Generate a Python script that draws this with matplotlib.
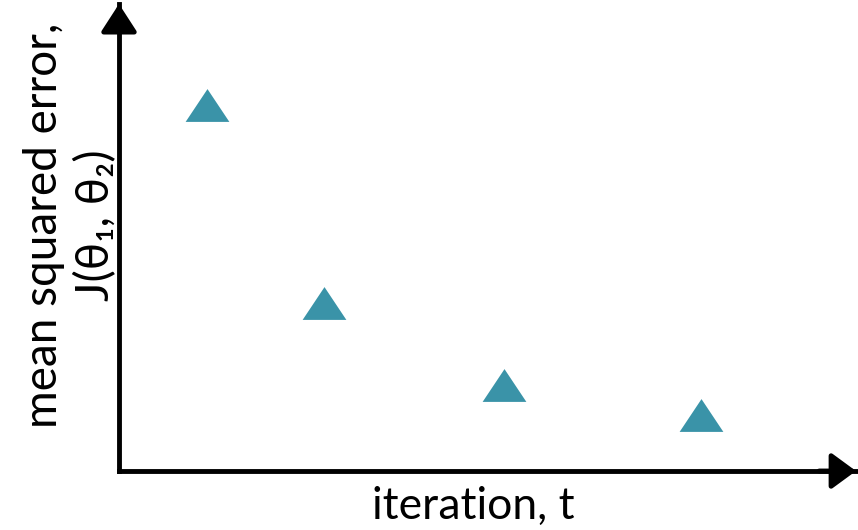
import matplotlib
matplotlib.use("Agg")
from matplotlib import pyplot as plt

iterations = [1.2, 2.78, 5.22, 7.9]
mse = [7.84, 3.59, 1.84, 1.19]

teal = "#3a93a8"
tri = [(-1.0, -0.75), (1.0, -0.75), (0.0, 0.75)]

fig = plt.figure(figsize=(8.58, 5.30), dpi=100)
ax = fig.add_axes([119 / 858, 59 / 530, 737 / 858, 467 / 530])

ax.plot(iterations, mse, linestyle="none", marker=tri, markersize=31.5,
        color=teal, markeredgewidth=0)
ax.set_xlim(0, 10)
ax.set_ylim(0, 10)

for s in ["top", "right"]:
    ax.spines[s].set_visible(False)
for s in ["left", "bottom"]:
    ax.spines[s].set_linewidth(3.5)
    ax.spines[s].set_capstyle("projecting")
ax.set_xticks([])
ax.set_yticks([])

# arrow heads at the ends of the axes
ax.annotate("", xy=(1.0, 0), xytext=(0.95, 0), xycoords="axes fraction",
            arrowprops=dict(arrowstyle="-|>,head_length=0.75,head_width=0.55",
                            lw=3.5, color="black", mutation_scale=20,
                            shrinkA=0, shrinkB=0))
ax.annotate("", xy=(0, 1.0), xytext=(0, 0.95), xycoords="axes fraction",
            arrowprops=dict(arrowstyle="-|>,head_length=0.85,head_width=0.55",
                            lw=3.5, color="black", mutation_scale=20,
                            shrinkA=0, shrinkB=0))

font = ["Lato", "DejaVu Sans"]
ax.set_xlabel("iteration, t", fontsize=32, family=font)
ax.xaxis.set_label_coords(0.481, -0.075)
ax.xaxis.label.set_va("center")
ax.set_ylabel("mean squared error,\nJ(θ₁, θ₂)", fontsize=33, family=font,
              linespacing=1.25)
ax.yaxis.set_label_coords(-0.066, 0.527)
ax.yaxis.label.set_va("center")

fig.savefig("out.png", dpi=100)
